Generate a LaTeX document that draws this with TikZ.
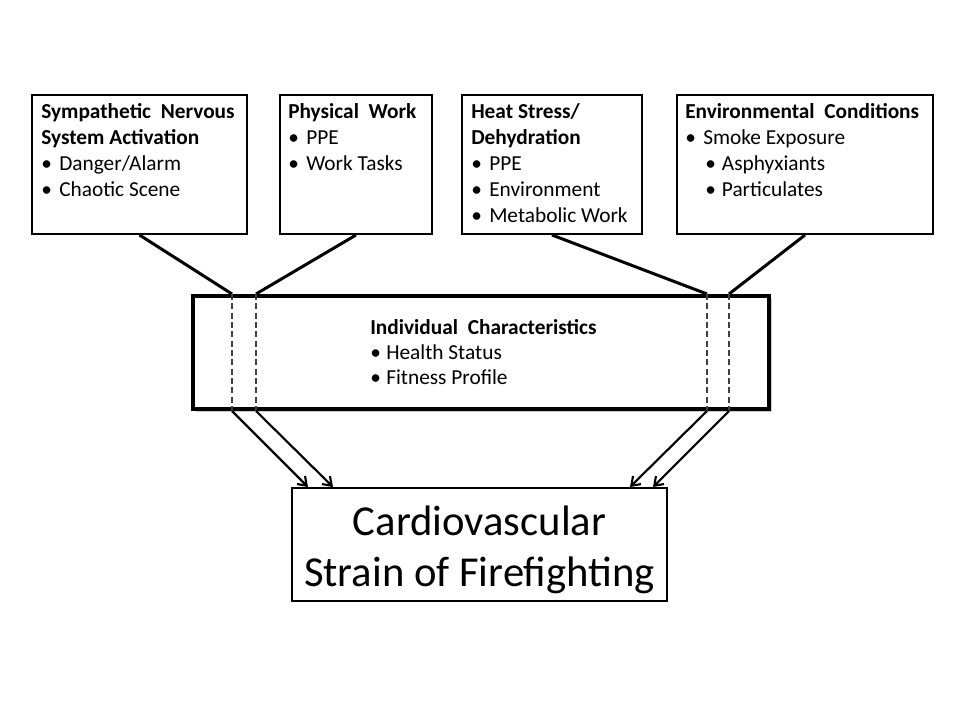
\documentclass[tikz,border=0pt]{standalone}
\usepackage{fontspec}
\setmainfont{Carlito}
\usetikzlibrary{arrows.meta,fit,shadows,positioning}

\newcommand{\bul}[1]{\makebox[13.5pt][l]{•}#1}
\newcommand{\subbul}[1]{\hspace{15pt}\makebox[12.5pt][l]{•}#1}

\begin{document}
\begin{tikzpicture}[x=0.75pt,y=-0.75pt,
    factor/.style={draw,line width=1.5pt,inner sep=0pt},
    txt/.style={anchor=north west,inner sep=0pt,align=left,font=\fontsize{16}{19.5}\selectfont},
    link/.style={line width=2.25pt},
    pass/.style={line width=2.2pt,draw=black!75,dash pattern=on 4.5pt off 2.5pt},
    effect/.style={-{Straight Barb[length=6pt,width=8.5pt]},line width=1.6pt}]
  \useasboundingbox (0,0) rectangle (960,720);

  % the four groups of stressors
  \node[factor,fit={(32,95) (247,234)}] (snsa) {};
  \node[factor,fit={(280,95) (432,234)}] (work) {};
  \node[factor,fit={(462,95) (642,234)}] (heat) {};
  \node[factor,fit={(677,95) (933,234)}] (envir) {};

  \node[txt] (snsatxt) at ([shift={(10,9)}]snsa.north west)
    {\textbf{Sympathetic~ Nervous}\\ \textbf{System Activation}\\ \bul{Danger/Alarm}\\ \bul{Chaotic Scene}};
  \node[txt] (worktxt) at ([shift={(9,9)}]work.north west)
    {\textbf{Physical~ Work}\\ \bul{PPE}\\ \bul{Work Tasks}};
  \node[txt] (heattxt) at ([shift={(10,9)}]heat.north west)
    {\textbf{Heat Stress/}\\ \textbf{Dehydration}\\ \bul{PPE}\\ \bul{Environment}\\ \bul{Metabolic Work}};
  \node[txt] (envirtxt) at ([shift={(9,9)}]envir.north west)
    {\textbf{Environmental~ Conditions}\\ \bul{Smoke Exposure}\\ \subbul{Asphyxiants}\\ \subbul{Particulates}};

  % modifying box
  \node[factor,line width=3pt,fill=white,
    drop shadow={shadow xshift=2.5pt,shadow yshift=-2.5pt,opacity=0.4},
    fit={(193,296) (769,409)}] (indiv) {};
  \node[txt,font=\fontsize{16}{18.75}\selectfont] (indivtxt) at (370,319)
    {\textbf{Individual~ Characteristics}\\ \makebox[12pt][l]{•}Health Status\\ \makebox[12pt][l]{•}Fitness Profile};

  % outcome
  \node[draw,line width=1.5pt,minimum width=281.25pt,minimum height=84.75pt,
    align=center,font=\fontsize{32}{38}\selectfont] (cvs) at (479.5,544.5)
    {\rule{0pt}{30pt}Cardiovascular\\Strain of Firefighting};

  % crossing points
  \coordinate (p1) at (232,0);
  \coordinate (p2) at (256,0);
  \coordinate (p3) at (707,0);
  \coordinate (p4) at (729,0);
  \coordinate (q1) at (308,0);
  \coordinate (q2) at (333,0);
  \coordinate (q3) at (630,0);
  \coordinate (q4) at (653,0);

  \draw[link] (snsa.south) -- (p1 |- indiv.north);
  \draw[link] (work.south) -- (p2 |- indiv.north);
  \draw[link] (heat.south) -- (p3 |- indiv.north);
  \draw[link] (envir.south) -- (p4 |- indiv.north);

  \foreach \p in {p1,p2,p3,p4}
    \draw[pass] (\p |- indiv.north) -- (\p |- indiv.south);

  \draw[effect] (p1 |- indiv.south) -- (q1 |- cvs.north);
  \draw[effect] (p2 |- indiv.south) -- (q2 |- cvs.north);
  \draw[effect] (p3 |- indiv.south) -- (q3 |- cvs.north);
  \draw[effect] (p4 |- indiv.south) -- (q4 |- cvs.north);
\end{tikzpicture}
\end{document}
